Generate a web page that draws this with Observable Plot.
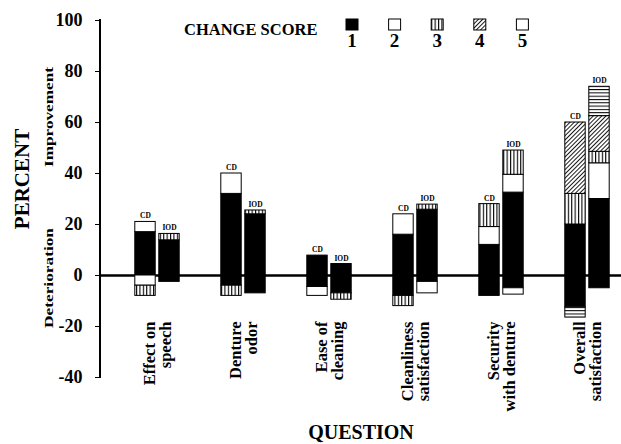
<!DOCTYPE html>
<html><head><meta charset="utf-8">
<script src="https://cdn.jsdelivr.net/npm/d3@7"></script>
<script src="https://cdn.jsdelivr.net/npm/@observablehq/plot@0.6"></script>
<style>
body{margin:0;background:#fff;}
#wrap{position:relative;width:621px;height:444px;}
</style></head>
<body>
<svg width="0" height="0" style="position:absolute">
<defs>
<pattern id="pv" patternUnits="userSpaceOnUse" width="3.4" height="4"><rect width="3.4" height="4" fill="white"/><rect x="0" width="1.1" height="4" fill="black"/></pattern>
<pattern id="pd" patternUnits="userSpaceOnUse" width="3" height="3" patternTransform="rotate(45)"><rect width="3" height="3" fill="white"/><rect width="0.9" height="3" fill="black"/></pattern>
<pattern id="ph" patternUnits="userSpaceOnUse" width="4" height="3.3"><rect width="4" height="3.3" fill="white"/><rect width="4" height="1" fill="black"/></pattern>
</defs></svg>
<div id="wrap"></div>
<script>
const questions = ["Effect on\nspeech","Denture\nodor","Ease of\ncleaning","Cleanliness\nsatisfaction","Security\nwith denture","Overall\nsatisfaction"];
const groups = ["CD","IOD"];
const scores = [1,2,3,4,5];
const yTicks = [-40,-20,0,20,40,60,80,100];

// CD: improvement (positive) by change score
const cdImp1 = [17, 32, 7.8, 16, 12, 20];
const cdImp2 = [4, 8, 0, 8, 7, 0];
const cdImp3 = [0, 0, 0, 0, 9, 12];
const cdImp4 = [0, 0, 0, 0, 0, 28];
const cdImp5 = [0, 0, 0, 0, 0, 0];
// CD: deterioration (negative) by change score
const cdDet1 = [0, -4, -4.5, -8, -8, -12.5];
const cdDet2 = [-4, 0, -3.5, 0, 0, 0];
const cdDet3 = [-4, -4, 0, -4, 0, 0];
const cdDet4 = [0, 0, 0, 0, 0, 0];
const cdDet5 = [0, 0, 0, 0, 0, -4];
// IOD: improvement
const iodImp1 = [13.8, 24, 4.5, 25.8, 32.5, 30];
const iodImp2 = [0, 0, 0, 0, 7, 14];
const iodImp3 = [2.5, 1.5, 0, 2, 9.5, 4.5];
const iodImp4 = [0, 0, 0, 0, 0, 14];
const iodImp5 = [0, 0, 0, 0, 0, 11.5];
// IOD: deterioration
const iodDet1 = [-2.5, -7, -7, -2.5, -5, -5];
const iodDet2 = [0, 0, 0, -4.5, -2.5, 0];
const iodDet3 = [0, 0, -2.5, 0, 0, 0];
const iodDet4 = [0, 0, 0, 0, 0, 0];
const iodDet5 = [0, 0, 0, 0, 0, 0];

const scoreFills = ["black", "white", "url(#pv)", "url(#pd)", "url(#ph)"];
const legendFills = ["black", "white", "url(#pv)", "url(#pd)", "white"];

const series = {
  CD: [[cdImp1, cdImp2, cdImp3, cdImp4, cdImp5], [cdDet1, cdDet2, cdDet3, cdDet4, cdDet5]],
  IOD: [[iodImp1, iodImp2, iodImp3, iodImp4, iodImp5], [iodDet1, iodDet2, iodDet3, iodDet4, iodDet5]]
};
const rows = [];
for (const g of groups) for (const side of series[g]) side.forEach((arr, si) => arr.forEach((v, qi) => {
  if (v) rows.push({q: questions[qi], g, score: scores[si], v});
}));
const tops = [];
for (const g of groups) for (const q of questions) {
  tops.push({g, q, top: d3.sum(rows.filter(d => d.g === g && d.q === q && d.v > 0), d => d.v)});
}

const font = '"Liberation Serif", "Times New Roman", serif';
const barOpts = (g) => ({
  x: "q", y: "v", fill: "score", stroke: "black", strokeWidth: 1,
  insetLeft: g === "CD" ? 20.8 : 44.8, insetRight: g === "CD" ? 44.8 : 20.8
});

const chart = Plot.plot({
  width: 621, height: 444,
  marginLeft: 100, marginRight: 0, marginTop: 20, marginBottom: 67,
  style: {fontFamily: font, fontWeight: "bold", fontSize: "18px", color: "black", background: "transparent", overflow: "visible"},
  x: {domain: questions, range: [112.4, 632], padding: 0, axis: null},
  y: {domain: [-40, 100], ticks: yTicks, tickSize: 5, tickPadding: 13, tickFormat: d => String(d), label: null},
  color: {type: "ordinal", domain: scores, range: scoreFills},
  marks: [
    Plot.ruleY([0], {strokeWidth: 2.5}),
    Plot.barY(rows.filter(d => d.g === "CD"), barOpts("CD")),
    Plot.barY(rows.filter(d => d.g === "IOD"), barOpts("IOD")),
    Plot.text(tops.filter(d => d.g === "CD"), {x: "q", y: "top", text: "g", dx: -12, dy: -3.5, lineAnchor: "bottom", fontSize: 7.5, fontWeight: "bold"}),
    Plot.text(tops.filter(d => d.g === "IOD"), {x: "q", y: "top", text: "g", dx: 12, dy: -3.5, lineAnchor: "bottom", fontSize: 7.5, fontWeight: "bold"}),
    Plot.text(questions, {x: d => d, text: d => d, rotate: -90, frameAnchor: "bottom", dy: -56, textAnchor: "end", lineAnchor: "middle", fontSize: 16.5, fontWeight: "bold", ariaLabel: "qlabels"}),
    Plot.text(["PERCENT"], {text: d => d, frameAnchor: "left", rotate: -90, dx: -78, dy: -20, textAnchor: "middle", fontSize: 21, fontWeight: "bold"}),
    Plot.text(["Improvement"], {text: d => d, frameAnchor: "left", rotate: -90, dx: -52, dy: -82, textAnchor: "middle", fontSize: 12.5, fontWeight: "bold"}),
    Plot.text(["Deterioration"], {text: d => d, frameAnchor: "left", rotate: -90, dx: -52, dy: 79, textAnchor: "middle", fontSize: 12.5, fontWeight: "bold"}),
    Plot.text(["QUESTION"], {text: d => d, frameAnchor: "bottom", dy: 61, fontSize: 20, fontWeight: "bold"}),
    (index, scales, values, dims) => {
      const ns = "http://www.w3.org/2000/svg";
      const l = document.createElementNS(ns, "line");
      l.setAttribute("x1", dims.marginLeft); l.setAttribute("x2", dims.marginLeft);
      l.setAttribute("y1", scales.y(yTicks[yTicks.length - 1]) - 1);
      l.setAttribute("y2", scales.y(yTicks[0]) + 1);
      l.setAttribute("stroke", "black"); l.setAttribute("stroke-width", 2);
      return l;
    }
  ]
});
const wrap = document.getElementById("wrap");
wrap.appendChild(chart);

// center the lines of each multi-line question label, keeping the longest line's end at the anchor
chart.querySelectorAll('g[aria-label="qlabels"] text').forEach(t => {
  const spans = t.querySelectorAll("tspan");
  const L = spans.length ? d3.max(Array.from(spans), s => s.getComputedTextLength()) : t.getComputedTextLength();
  t.setAttribute("text-anchor", "middle");
  t.setAttribute("transform", (t.getAttribute("transform") || "") + ` translate(${-L / 2},0)`);
});
// the small side labels are set in a condensed (tall, narrow) face in the original
chart.querySelectorAll("text").forEach(t => {
  if (t.textContent === "Improvement" || t.textContent === "Deterioration") {
    t.setAttribute("textLength", 100);
    t.setAttribute("lengthAdjust", "spacingAndGlyphs");
  }
});

// legend (inside the plot area, top)
const leg = d3.select(wrap).append("svg")
  .attr("width", 621).attr("height", 60)
  .style("position", "absolute").style("left", "0px").style("top", "0px")
  .style("font-family", font).style("font-weight", "bold");
leg.append("text").attr("x", 184).attr("y", 35).attr("font-size", 16.5).text("CHANGE SCORE");
const item = leg.selectAll("g.item").data(scores).join("g").attr("class", "item")
  .attr("transform", (d, i) => `translate(${346 + i * 42.6},19)`);
item.append("rect").attr("width", 12).attr("height", 11).attr("fill", (d, i) => legendFills[i]).attr("stroke", "black").attr("stroke-width", 1);
item.append("text").attr("x", 6).attr("y", 27.5).attr("text-anchor", "middle").attr("font-size", 19).text(d => d);
</script>
</body></html>
